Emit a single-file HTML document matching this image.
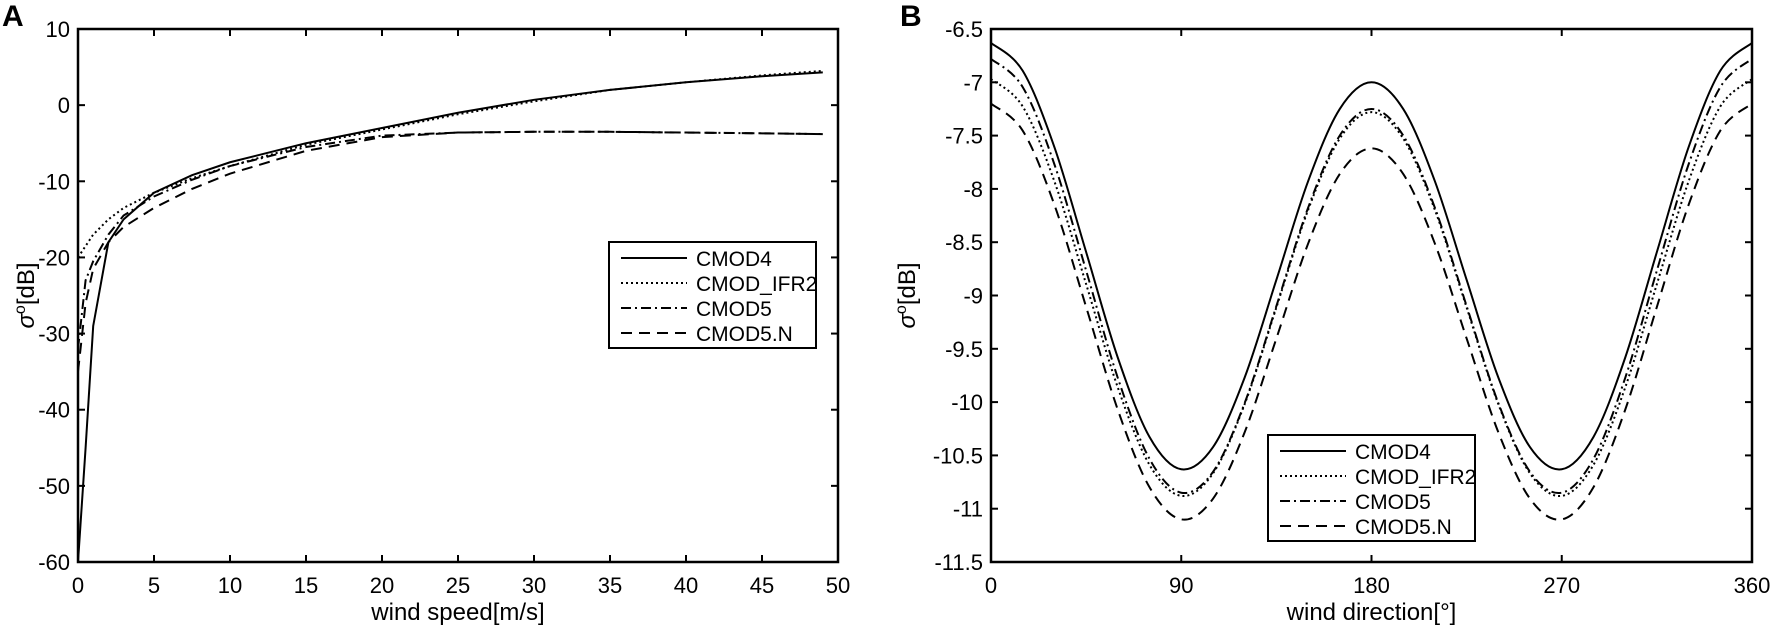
<!DOCTYPE html>
<html><head><meta charset="utf-8"><style>
body{margin:0;background:#fff;}
svg text{font-family:"Liberation Sans",Arial,sans-serif;fill:#000;}
</style></head><body>
<svg id="chart" width="1772" height="632" viewBox="0 0 1772 632" xmlns="http://www.w3.org/2000/svg"></svg>
<script>
// Panel A data
const aWind = [0,0.5,1,2,3,5,7.5,10,15,20,25,30,35,40,45,49];
const aCMOD4 = [-60,-45,-29,-18,-15,-11.5,-9.2,-7.5,-5,-3,-1,0.7,2,3,3.8,4.3];
const aIFR2 = [-20,-18.5,-17,-15,-13.5,-11.5,-9.6,-8,-5.2,-3.2,-1.2,0.5,2,3,3.9,4.5];
const aCMOD5 = [-32,-23,-20.5,-17,-14.5,-12,-9.8,-8,-5.5,-4,-3.6,-3.5,-3.5,-3.6,-3.7,-3.8];
const aCMOD5N = [-35,-26,-21.5,-18,-16,-13.5,-11,-9,-6,-4.2,-3.6,-3.5,-3.5,-3.6,-3.7,-3.8];
const aXTicks = [0,5,10,15,20,25,30,35,40,45,50];
const aYTicks = [10,0,-10,-20,-30,-40,-50,-60];
// Panel B data
const bDir = [0,15,30,45,60,75,90,105,120,135,150,165,180,195,210,225,240,255,270,285,300,315,330,345,360];
const bCMOD4 = [-6.63,-6.892,-7.609,-8.592,-9.584,-10.327,-10.63,-10.423,-9.769,-8.853,-7.929,-7.25,-7.0,-7.25,-7.929,-8.853,-9.769,-10.423,-10.63,-10.327,-9.584,-8.592,-7.609,-6.892,-6.63];
const bIFR2 = [-6.97,-7.227,-7.93,-8.893,-9.864,-10.589,-10.88,-10.669,-10.019,-9.112,-8.198,-7.527,-7.28,-7.527,-8.198,-9.112,-10.019,-10.669,-10.88,-10.589,-9.864,-8.893,-7.93,-7.227,-6.97];
const bCMOD5 = [-6.78,-7.045,-7.77,-8.766,-9.774,-10.533,-10.85,-10.655,-10.009,-9.099,-8.178,-7.499,-7.25,-7.499,-8.178,-9.099,-10.009,-10.655,-10.85,-10.533,-9.774,-8.766,-7.77,-7.045,-6.78];
const bCMOD5N = [-7.2,-7.454,-8.15,-9.107,-10.073,-10.799,-11.1,-10.907,-10.283,-9.403,-8.514,-7.86,-7.62,-7.86,-8.514,-9.403,-10.283,-10.907,-11.1,-10.799,-10.073,-9.107,-8.15,-7.454,-7.2];
const bXTicks = [0,90,180,270,360];
const bYTicks = [-6.5,-7,-7.5,-8,-8.5,-9,-9.5,-10,-10.5,-11,-11.5];
const seriesNames = ["CMOD4","CMOD_IFR2","CMOD5","CMOD5.N"];

const NS="http://www.w3.org/2000/svg";
const svg=document.getElementById('chart');
function mk(tag,attrs,parent){const e=document.createElementNS(NS,tag);for(const k in attrs)e.setAttribute(k,attrs[k]);(parent||svg).appendChild(e);return e;}
const dashes=["none","2,3","10,4,2,4","11,7"];

function panel(cfg){
  const g=mk('g',{});
  
  
  const L=cfg.L,R=cfg.R,T=cfg.T,B=cfg.B;
  const sx=v=>L+(v-cfg.x0)/(cfg.x1-cfg.x0)*(R-L);
  const sy=v=>B-(v-cfg.y0)/(cfg.y1-cfg.y0)*(B-T);
  // series
  cfg.series.forEach((ys,i)=>{
    const pts=cfg.xs.map((x,j)=>[sx(x),sy(ys[j])]);
    let d='M'+pts[0][0]+','+pts[0][1];
    if(cfg.smooth){
      for(let j=0;j<pts.length-1;j++){
        const p0=pts[Math.max(0,j-1)],p1=pts[j],p2=pts[j+1],p3=pts[Math.min(pts.length-1,j+2)];
        const c1=[p1[0]+(p2[0]-p0[0])/6,p1[1]+(p2[1]-p0[1])/6];
        const c2=[p2[0]-(p3[0]-p1[0])/6,p2[1]-(p3[1]-p1[1])/6];
        d+=' C'+c1+' '+c2+' '+p2;
      }
    } else {for(let j=1;j<pts.length;j++)d+=' L'+pts[j];}
    const p=mk('path',{d:d,fill:'none',stroke:'#000','stroke-width':2,'stroke-dasharray':dashes[i]},g);
    
    
  });
  // frame
  const fr=mk('rect',{x:L,y:T,width:R-L,height:B-T,fill:'none',stroke:'#000','stroke-width':2.5},g);
  
  
  cfg.xt.forEach(v=>{
    const x=sx(v);
    mk('line',{x1:x,x2:x,y1:B,y2:B-7,stroke:'#000','stroke-width':2},g);
    mk('line',{x1:x,x2:x,y1:T,y2:T+7,stroke:'#000','stroke-width':2},g);
    const t=mk('text',{x:x,y:B+31,'font-size':22,'text-anchor':'middle'},g);
    t.textContent=v;
    
    
  });
  cfg.yt.forEach(v=>{
    const y=sy(v);
    mk('line',{x1:L,x2:L+7,y1:y,y2:y,stroke:'#000','stroke-width':2},g);
    mk('line',{x1:R,x2:R-7,y1:y,y2:y,stroke:'#000','stroke-width':2},g);
    const t=mk('text',{x:L-8,y:y+8,'font-size':22,'text-anchor':'end'},g);
    t.textContent=v;
    
    
  });
  const xt=mk('text',{x:(L+R)/2,y:620,'font-size':24,'text-anchor':'middle'},g);
  xt.textContent=cfg.xTitle;
  
  
  const yt=mk('text',{x:0,y:0,'font-size':24,'text-anchor':'middle',transform:'translate('+cfg.yTitleX+','+(T+B)/2+') rotate(-90)'},g);
  yt.innerHTML='<tspan font-style="italic">σ</tspan><tspan font-size="16" dy="-9">o</tspan><tspan dy="9">[dB]</tspan>';
  
  
  const pl=mk('text',{x:cfg.labelX,y:26,'font-size':30,'font-weight':'bold'},g);
  pl.textContent=cfg.label;
  
  
  // legend
  const lg=mk('g',{},g);
  
  
  mk('rect',{x:cfg.lx,y:cfg.ly,width:207,height:106,fill:'#fff',stroke:'#000','stroke-width':2},lg);
  seriesNames.forEach((n,i)=>{
    const y=cfg.ly+16+i*25;
    mk('line',{x1:cfg.lx+12,x2:cfg.lx+78,y1:y,y2:y,stroke:'#000','stroke-width':2,'stroke-dasharray':dashes[i]},lg);
    const t=mk('text',{x:cfg.lx+87,y:y+8,'font-size':21},lg);
    t.textContent=n;
    
    
  });
}
panel({name:'panel-a',L:78,R:838,T:29,B:562,x0:0,x1:50,y0:-60,y1:10,xs:aWind,series:[aCMOD4,aIFR2,aCMOD5,aCMOD5N],smooth:false,xt:aXTicks,yt:aYTicks,xTitle:'wind speed[m/s]',yTitleX:34,label:'A',labelX:2,lx:609,ly:242});
panel({name:'panel-b',L:991,R:1752,T:29,B:562,x0:0,x1:360,y0:-11.5,y1:-6.5,xs:bDir,series:[bCMOD4,bIFR2,bCMOD5,bCMOD5N],smooth:true,xt:bXTicks,yt:bYTicks,xTitle:'wind direction[°]',yTitleX:915,label:'B',labelX:900,lx:1268,ly:435});
</script>
</body></html>
